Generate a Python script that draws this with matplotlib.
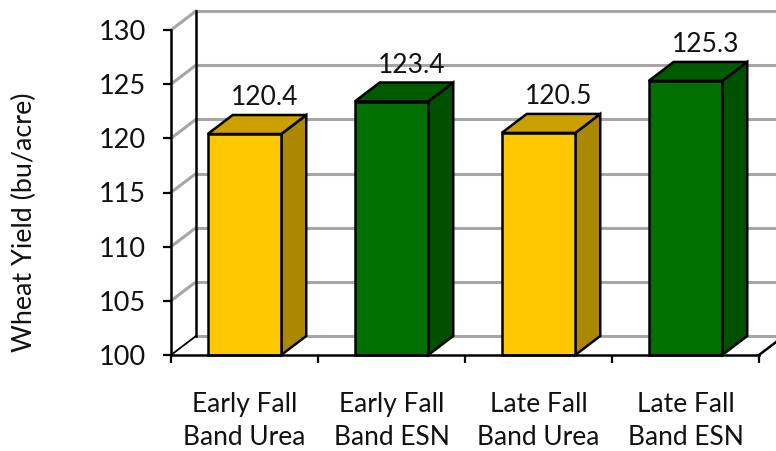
import matplotlib
matplotlib.use("Agg")
from matplotlib import pyplot as plt
from matplotlib.patches import Polygon

plt.rcParams["font.family"] = ["Lato", "DejaVu Sans"]

# Data for the plot
categories = ["Early Fall\nBand Urea", "Early Fall\nBand ESN", "Late Fall\nBand Urea", "Late Fall\nBand ESN"]
yields = [120.4, 123.4, 120.5, 125.3]
labels = ["120.4", "123.4", "120.5", "125.3"]
y_ticks = [100, 105, 110, 115, 120, 125, 130]

W, H = 776, 451
TEXT = "#111111"
GRID = "#a6a6a6"
YELLOW = ("#ffc800", "#cca000", "#aa8800")
GREEN = ("#007000", "#005a00", "#005000")
bar_colors = [YELLOW, GREEN, YELLOW, GREEN]

fig = plt.figure(figsize=(W / 100, H / 100), dpi=100)
ax = fig.add_axes([171 / W, (H - 355) / H, 588 / W, 325 / H])
ax.set_xlim(0, len(categories))
ax.set_ylim(100, 130)

# 3D depth in data units: 25px right, 19px up
dx = 25 / 147
dy = 19 / (325 / 30)
bar_w = 0.5

# gridlines on back wall and side wall
for t in y_ticks:
    ax.plot([dx, 4.2], [t + dy, t + dy], color=GRID, lw=2.2, clip_on=False, zorder=1)
    if t > 100:
        ax.plot([0, dx], [t, t + dy], color=GRID, lw=2.2, clip_on=False, zorder=1)

# back wall edge and floor edges
ax.plot([dx, dx], [100 + dy, 130 + dy], color="black", lw=1.8, clip_on=False, zorder=2)
ax.plot([0, dx], [100, 100 + dy], color="black", lw=1.3, clip_on=False, zorder=2)
ax.plot([4, 4 + dx], [100, 100 + dy], color="black", lw=1.8, clip_on=False, zorder=2)

# bars drawn as three faces
for i, v in enumerate(yields):
    x0 = i + 0.25
    x1 = x0 + bar_w
    front, top, side = bar_colors[i]
    faces = [
        ([(x1, 100), (x1 + dx, 100 + dy), (x1 + dx, v + dy), (x1, v)], side),
        ([(x0, v), (x1, v), (x1 + dx, v + dy), (x0 + dx, v + dy)], top),
        ([(x0, 100), (x1, 100), (x1, v), (x0, v)], front),
    ]
    for pts, c in faces:
        ax.add_patch(Polygon(pts, closed=True, facecolor=c, edgecolor="black", lw=1.8,
                             joinstyle="miter", clip_on=False, zorder=3))
    ax.annotate(labels[i], (i + 0.5, v), xytext=(14.5, 26), textcoords="offset points",
                ha="center", va="center", fontsize=19, color=TEXT, zorder=4, annotation_clip=False)

# axes
for s in ["top", "right"]:
    ax.spines[s].set_visible(False)
for s in ["left", "bottom"]:
    ax.spines[s].set_linewidth(1.8)
    ax.spines[s].set_zorder(5)

ax.set_yticks(y_ticks)
ax.tick_params(axis="y", length=6, width=1.6, pad=12, labelsize=19.5, labelcolor=TEXT)
ax.set_xticks(range(len(categories) + 1))
ax.set_xticklabels([])
ax.tick_params(axis="x", which="major", length=6, width=1.6)
ax.set_xticks([i + 0.5 for i in range(len(categories))], minor=True)
ax.set_xticklabels(categories, minor=True, fontsize=19, color=TEXT, linespacing=1.42)
ax.tick_params(axis="x", which="minor", length=0, pad=26.5)

fig.text(24 / W, 1 - 222 / H, "Wheat Yield (bu/acre)", rotation=90, ha="center", va="center",
         fontsize=19.4, color=TEXT)

fig.savefig("out.png", dpi=100)
